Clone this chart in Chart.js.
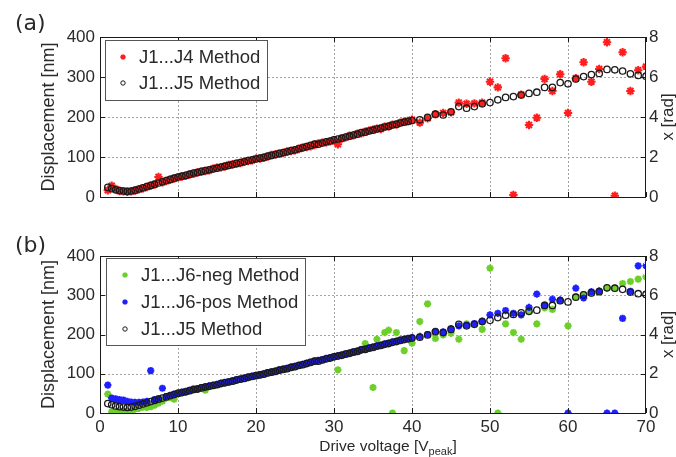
<!DOCTYPE html>
<html>
<head>
<meta charset="utf-8">
<script src="https://cdn.jsdelivr.net/npm/chart.js@4.4.1/dist/chart.umd.min.js"></script>
<style>
  body { margin: 0; background: #fff; width: 676px; height: 457px; position: relative; overflow: hidden; font-family: "Liberation Sans", Arial, sans-serif; }
  canvas { position: absolute; left: 0; }
  #chartA { top: 0; }
  #chartB { top: 215px; }
  .panel { position: absolute; left: 15px; font-size: 22px; line-height: 1; color: #2a2a2a; font-family: "DejaVu Sans", sans-serif; }
</style>
</head>
<body>
<canvas id="chartA" width="676" height="215"></canvas>
<canvas id="chartB" width="676" height="242"></canvas>
<div class="panel" style="top:12px">(a)</div>
<div class="panel" style="top:234px">(b)</div>
<script>
// drive voltage [V_peak] - 0.5 V steps up to 40 V, then 1 V steps
const voltage = [
  1, 1.5, 2, 2.5, 3, 3.5, 4, 4.5, 5, 5.5,
  6, 6.5, 7, 7.5, 8, 8.5, 9, 9.5, 10, 10.5,
  11, 11.5, 12, 12.5, 13, 13.5, 14, 14.5, 15, 15.5,
  16, 16.5, 17, 17.5, 18, 18.5, 19, 19.5, 20, 20.5,
  21, 21.5, 22, 22.5, 23, 23.5, 24, 24.5, 25, 25.5,
  26, 26.5, 27, 27.5, 28, 28.5, 29, 29.5, 30, 30.5,
  31, 31.5, 32, 32.5, 33, 33.5, 34, 34.5, 35, 35.5,
  36, 36.5, 37, 37.5, 38, 38.5, 39, 39.5, 40,
  41, 42, 43, 44, 45, 46, 47, 48, 49, 50,
  51, 52, 53, 54, 55, 56, 57, 58, 59, 60,
  61, 62, 63, 64, 65, 66, 67, 68, 69, 70
];

// displacement [nm]
const j5Method = [
  24, 21, 18, 16, 15, 14, 15, 17, 20, 23,
  26, 29, 32, 35, 38, 41, 44, 47, 50, 52,
  54, 57, 60, 61, 64, 66, 68, 70, 72, 75,
  77, 79, 81, 84, 86, 88, 91, 93, 95, 97,
  99, 102, 104, 106, 109, 111, 113, 116, 118, 121,
  123, 126, 129, 132, 132, 135, 138, 140, 143, 145,
  147, 150, 152, 155, 157, 161, 162, 165, 167, 170,
  172, 175, 177, 180, 182, 185, 187, 189, 191,
  193, 199, 207, 205, 213, 226, 222, 226, 233, 236,
  243, 249, 251, 255, 259, 262, 274, 274, 286, 283,
  295, 301, 306, 309, 319, 318, 315, 308, 304, 302
];

const j4Method = [
  17, 28, 20, 15, 14, 13, 14, 16, 19, 22,
  25, 28, 31, 50, 37, 40, 43, 46, 49, 51,
  53, 56, 58, 62, 63, 65, 67, 71, 73, 74,
  76, 80, 82, 83, 85, 89, 90, 92, 96, 96,
  98, 101, 105, 107, 108, 110, 114, 115, 117, 120,
  124, 125, 127, 130, 134, 136, 137, 139, 142, 132,
  146, 149, 153, 154, 158, 159, 163, 166, 168, 171,
  170, 176, 176, 181, 181, 186, 188, 190, 193,
  186, 197, 207, 210, 212, 236, 233, 234, 236, 288,
  274, 347, 5, 256, 180, 198, 295, 265, 307, 210,
  297, 337, 288, 320, 387, 3, 362, 265, 317, 326
];

const j6NegMethod = [
  48, 3, 2, 3, 5, 2, 4, 10, 12, 15,
  14, 16, 20, 25, 30, 38, 40, 35, 49, 51,
  54, 56, 59, 61, 63, 58, 68, 70, 72, 75,
  77, 79, 81, 84, 86, 88, 90, 93, 95, 97,
  99, 102, 104, 106, 109, 111, 113, 116, 118, 121,
  123, 126, 128, 131, 133, 135, 138, 140, 143, 110,
  147, 150, 152, 155, 157, 162, 177, 165, 65, 188,
  172, 205, 211, 0, 205, 185, 159, 189, 178,
  233, 278, 190, 199, 203, 188, 227, 226, 213, 369,
  0, 227, 205, 188, 258, 227, 268, 264, 286, 222,
  296, 301, 305, 309, 318, 318, 330, 335, 341, 347
];

const j6PosMethod = [
  71, 38, 36, 34, 33, 30, 28, 27, 27, 28,
  30, 108, 34, 37, 63, 42, 45, 48, 51, 53,
  55, 58, 60, 62, 65, 67, 69, 71, 73, 76,
  78, 80, 82, 85, 87, 89, 92, 94, 96, 98,
  100, 103, 105, 107, 110, 112, 114, 117, 119, 122,
  124, 127, 129, 132, 134, 136, 139, 141, 144, 146,
  148, 151, 153, 156, 158, 161, 163, 166, 168, 171,
  173, 176, 178, 181, 183, 186, 188, 190, 192,
  195, 200, 208, 207, 215, 222, 224, 228, 234, 250,
  254, 261, 254, 250, 269, 303, 275, 290, 288, 0,
  318, 293, 309, 311, 0, 0, 241, 310, 375, 375
];

const xTicks = { min: 0, max: 70, step: 10 };
const nmTicks = { min: 0, max: 400, step: 100 };
const radTicks = { min: 0, max: 8, step: 2 };

const TXT = '#2a2a2a';
const FONT = '"Liberation Sans", Arial, sans-serif';

function pts(arr) {
  return voltage.map((v, i) => ({ x: v, y: arr[i] }));
}

function starSet(label, arr, color, order, r) {
  return {
    label, data: pts(arr), order,
    pointStyle: 'star', pointRadius: r, borderWidth: 2.1,
    borderColor: color, backgroundColor: color, showLine: false
  };
}

function circleSet(label, arr, order) {
  return {
    label, data: pts(arr), order,
    pointStyle: 'circle', pointRadius: 3.2, borderWidth: 1.3,
    borderColor: '#1a1a1a', backgroundColor: 'rgba(0,0,0,0)', showLine: false
  };
}

// dotted grid, box frame and inward ticks like the original figure
const frameTicks = {
  id: 'frameTicks',
  beforeDatasetsDraw(chart) {
    const { ctx, chartArea: a, scales } = chart;
    ctx.save();
    ctx.strokeStyle = '#a4a4a4';
    ctx.lineWidth = 1;
    ctx.setLineDash([2, 2]);
    ctx.beginPath();
    scales.x.ticks.forEach(t => {
      const px = Math.round(scales.x.getPixelForValue(t.value)) + 0.5;
      if (px <= a.left + 2 || px >= a.right - 2) return;
      ctx.moveTo(px, a.top); ctx.lineTo(px, a.bottom);
    });
    scales.y.ticks.forEach(t => {
      const py = Math.round(scales.y.getPixelForValue(t.value)) + 0.5;
      if (py <= a.top + 2 || py >= a.bottom - 2) return;
      ctx.moveTo(a.left, py); ctx.lineTo(a.right, py);
    });
    ctx.stroke();
    ctx.restore();
  },
  afterDatasetsDraw(chart) {
    const { ctx, chartArea: a, scales } = chart;
    const len = 5;
    ctx.save();
    ctx.strokeStyle = '#1a1a1a';
    ctx.lineWidth = 1;
    ctx.strokeRect(a.left + 0.5, a.top + 0.5, a.right - a.left - 1, a.bottom - a.top);
    ctx.beginPath();
    scales.x.ticks.forEach(t => {
      const px = Math.round(scales.x.getPixelForValue(t.value)) + 0.5;
      ctx.moveTo(px, a.bottom); ctx.lineTo(px, a.bottom - len);
      ctx.moveTo(px, a.top); ctx.lineTo(px, a.top + len);
    });
    scales.y.ticks.forEach(t => {
      const py = Math.round(scales.y.getPixelForValue(t.value)) + 0.5;
      ctx.moveTo(a.left, py); ctx.lineTo(a.left + len, py);
    });
    scales.y2.ticks.forEach(t => {
      const py = Math.round(scales.y2.getPixelForValue(t.value)) + 0.5;
      ctx.moveTo(a.right, py); ctx.lineTo(a.right - len, py);
    });
    ctx.stroke();
    ctx.restore();
  }
};

// boxed legend sitting inside the plot, plus right / bottom titles
const boxLegend = {
  id: 'boxLegend',
  afterDraw(chart, args, o) {
    const { ctx, chartArea: a } = chart;
    ctx.save();
    ctx.fillStyle = '#fff';
    ctx.fillRect(o.left, o.top, o.width, o.height);
    ctx.strokeStyle = '#555';
    ctx.lineWidth = 1;
    ctx.strokeRect(o.left + 0.5, o.top + 0.5, o.width, o.height);
    ctx.font = '18.5px ' + FONT;
    ctx.textBaseline = 'middle';
    chart.data.datasets.forEach((ds, i) => {
      const y = o.firstRow + i * o.rowGap;
      ctx.strokeStyle = ds.borderColor;
      ctx.fillStyle = ds.backgroundColor;
      ctx.lineWidth = ds.pointStyle === 'star' ? 1.8 : 1;
      Chart.helpers.drawPoint(ctx, { pointStyle: ds.pointStyle, radius: ds.pointStyle === 'star' ? 2.6 : 2.2, rotation: 0, borderWidth: ctx.lineWidth }, o.markerX, y);
      ctx.fillStyle = TXT;
      ctx.fillText(ds.label, o.textX, y + 1);
    });

    // right axis title, reads bottom to top
    ctx.font = '17px ' + FONT;
    ctx.fillStyle = TXT;
    ctx.textAlign = 'center';
    ctx.save();
    ctx.translate(o.rightTitleX, (a.top + a.bottom) / 2);
    ctx.rotate(-Math.PI / 2);
    ctx.fillText('x [rad]', 0, 0);
    ctx.restore();

    // x title with subscript
    if (o.xTitle) {
      ctx.textAlign = 'left';
      ctx.textBaseline = 'alphabetic';
      const main = 'Drive voltage [V', sub = 'peak', end = ']';
      const big = '15.5px ' + FONT, small = '11px ' + FONT;
      ctx.font = big;
      const w1 = ctx.measureText(main).width, w3 = ctx.measureText(end).width;
      ctx.font = small;
      const w2 = ctx.measureText(sub).width;
      let x = o.xTitleCenter - (w1 + w2 + w3) / 2;
      const y = o.xTitleY;
      ctx.font = big;
      ctx.fillText(main, x, y);
      x += w1;
      ctx.font = small;
      ctx.fillText(sub, x, y + 4);
      x += w2;
      ctx.font = big;
      ctx.fillText(end, x, y);
    }
    ctx.restore();
  }
};

function makeChart(id, datasets, opt) {
  const grid = { display: false, drawTicks: false };
  const border = { display: false };
  const tickFont = { family: FONT, size: 17 };
  return new Chart(document.getElementById(id), {
    type: 'scatter',
    data: { datasets },
    options: {
      responsive: false,
      animation: false,
      devicePixelRatio: 1,
      layout: { padding: { top: opt.padTop, left: 0, right: 0, bottom: 0 } },
      plugins: { legend: { display: false }, tooltip: { enabled: false }, boxLegend: opt.legend },
      scales: {
        x: {
          type: 'linear', min: xTicks.min, max: xTicks.max,
          ticks: { stepSize: xTicks.step, display: opt.xLabels, color: TXT, font: tickFont, padding: 4 },
          grid, border,
          afterFit: s => { s.height = opt.xHeight; }
        },
        y: {
          position: 'left', min: nmTicks.min, max: nmTicks.max,
          ticks: { stepSize: nmTicks.step, color: TXT, font: tickFont, padding: 5 },
          title: { display: true, text: 'Displacement [nm]', color: TXT, font: { family: FONT, size: 18 }, padding: { top: 38 } },
          grid, border,
          afterFit: s => { s.width = 100; }
        },
        y2: {
          position: 'right', min: radTicks.min, max: radTicks.max,
          ticks: { stepSize: radTicks.step, color: TXT, font: tickFont, padding: 3 },
          grid, border,
          afterFit: s => { s.width = 30; }
        }
      }
    },
    plugins: [frameTicks, boxLegend]
  });
}

makeChart('chartA', [
  starSet('J1...J4 Method', j4Method, '#ff1e1e', 1, 4.2),
  circleSet('J1...J5 Method', j5Method, 0)
], {
  padTop: 37, xHeight: 18, xLabels: false,
  legend: { left: 105, top: 40, width: 162, height: 60, firstRow: 57, rowGap: 26, markerX: 123, textX: 139, rightTitleX: 668 }
});

makeChart('chartB', [
  starSet('J1...J6-neg Method', j6NegMethod, '#6ccf2a', 2, 3.6),
  starSet('J1...J6-pos Method', j6PosMethod, '#1f1fff', 1, 3.6),
  circleSet('J1...J5 Method', j5Method, 0)
], {
  padTop: 41, xHeight: 44, xLabels: true,
  legend: { left: 106, top: 43, width: 199, height: 87, firstRow: 60, rowGap: 27, markerX: 125, textX: 141, rightTitleX: 668,
            xTitle: true, xTitleCenter: 388, xTitleY: 236 }
});
</script>
</body>
</html>
